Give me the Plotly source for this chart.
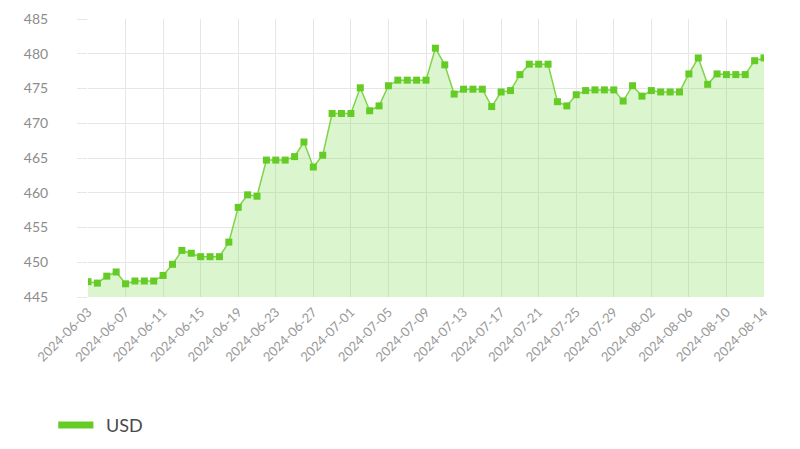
import pandas as pd
import plotly.graph_objects as go

# daily USD rate, 2024-06-03 .. 2024-08-14
dates = pd.date_range("2024-06-03", "2024-08-14", freq="D").strftime("%Y-%m-%d").tolist()
usd = [
    447.2, 447.0, 448.0, 448.6, 446.9, 447.3, 447.3, 447.3, 448.1, 449.7,
    451.7, 451.3, 450.8, 450.8, 450.8, 452.9, 457.9, 459.7, 459.5, 464.7,
    464.7, 464.7, 465.2, 467.3, 463.7, 465.4, 471.4, 471.4, 471.4, 475.1,
    471.8, 472.5, 475.4, 476.2, 476.2, 476.2, 476.2, 480.8, 478.4, 474.2,
    474.9, 474.9, 474.9, 472.4, 474.5, 474.7, 477.0, 478.5, 478.5, 478.5,
    473.1, 472.5, 474.1, 474.7, 474.8, 474.8, 474.8, 473.2, 475.4, 473.9,
    474.7, 474.5, 474.5, 474.5, 477.1, 479.4, 475.6, 477.1, 477.0, 477.0,
    477.0, 479.0, 479.4,
]
y_ticks = [445, 450, 455, 460, 465, 470, 475, 480, 485]
series_name = "USD"

GREEN = "#64cc24"
GRID = "#e6e6e6"
TXT = "#8c8c8c"

fig = go.Figure()
fig.add_trace(go.Scatter(
    x=dates, y=usd,
    mode="lines+markers",
    name=series_name,
    line=dict(color="#7fd34a", width=1.5),
    marker=dict(symbol="square", size=7, color=GREEN),
    fill="tozeroy",
    fillcolor="rgba(135, 225, 95, 0.30)",
    showlegend=False,
))

# legend drawn by hand: longer swatch than plotly's own
fig.add_shape(type="line", xref="paper", yref="paper",
              x0=-0.044, x1=0.008, y0=-0.46, y1=-0.46,
              line=dict(color=GREEN, width=7))
fig.add_annotation(text=series_name, xref="paper", yref="paper",
                   x=0.024, y=-0.46, xanchor="left", yanchor="middle",
                   showarrow=False, font=dict(size=18, color="#4a4a4a"))

# the page body has an 8px margin, so the margins are shifted to match
fig.update_layout(
    width=800, height=449,
    margin=dict(l=80, r=44, t=11, b=160),
    paper_bgcolor="white", plot_bgcolor="white",
    font=dict(family="Lato, sans-serif", color=TXT, size=13),
)
fig.update_xaxes(
    type="date", range=[dates[0], dates[-1]],
    tick0=dates[0], dtick=4 * 86400000, tickformat="%Y-%m-%d",
    tickangle=-45, showgrid=True, gridcolor=GRID, zeroline=False,
    showline=False, ticks="", tickfont=dict(color="#999999"),
    ticklabelstandoff=4, automargin=False,
)
fig.update_yaxes(
    range=[445, 485], tickvals=y_ticks,
    showgrid=True, gridcolor=GRID, zeroline=False,
    ticks="outside", ticklen=10, tickcolor=GRID, ticklabelstandoff=26,
    tickfont=dict(size=14), automargin=False,
)

fig.write_html("out.html")
